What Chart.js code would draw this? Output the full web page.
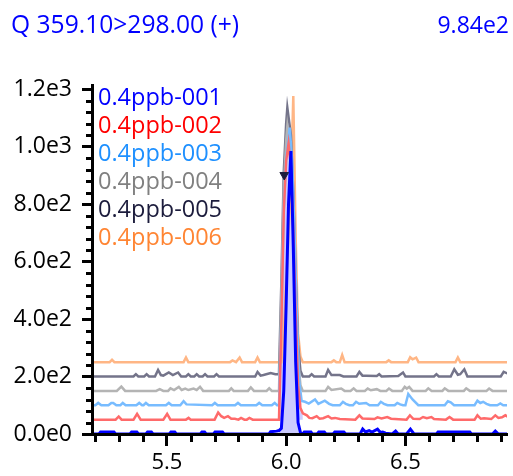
<!DOCTYPE html>
<html>
<head>
<meta charset="utf-8">
<script src="https://cdn.jsdelivr.net/npm/chart.js@4.4.1/dist/chart.umd.min.js"></script>
<style>
  html, body { margin: 0; padding: 0; background: #fff; }
  #wrap { width: 513px; height: 476px; }
</style>
</head>
<body>
<div id="wrap"><canvas id="chromChart" width="513" height="476"></canvas></div>
<script>
// Header texts
const titleText = 'Q 359.10>298.00 (+)';
const maxText = '9.84e2';

// Sample names, colours and vertical offsets of the stacked traces
const names = ['0.4ppb-001', '0.4ppb-002', '0.4ppb-003', '0.4ppb-004', '0.4ppb-005', '0.4ppb-006'];
const legendColors = ['#0000ff', '#ff0000', '#1e90ff', '#808080', '#1c1c3c', '#ff8533'];
const lineColors = ['#0000ff', '#ff6a6a', '#78bcff', '#b4b4b4', '#74748a', '#ffb685'];
const offsets = [0, 50, 100, 150, 200, 250];
const areaColor = '#ccccff';

// Integrated peak window (min)
const peakWindow = [5.97, 6.07];

// Axis ticks
const xTicks = [5.5, 6.0, 6.5];
const xTickLabels = ['5.5', '6.0', '6.5'];
const yTicks = [0, 200, 400, 600, 800, 1000, 1200];
const yTickLabels = ['0.0e0', '2.0e2', '4.0e2', '6.0e2', '8.0e2', '1.0e3', '1.2e3'];

// Traces: [retention time (min), intensity]
const s001 = [[5.18,0],[5.215,0],[5.222,7],[5.278,7],[5.285,0],[5.345,0],[5.352,7],[5.374,7],[5.381,0],
  [5.412,0],[5.419,7],[5.435,7],[5.442,0],[5.51,0],[5.517,7],[5.533,7],[5.54,0],[5.64,0],[5.647,7],
  [5.658,7],[5.665,0],[5.695,0],[5.702,7],[5.733,7],[5.74,0],[5.928,0],[5.935,8],[5.96,10],[5.97,12],
  [5.98,20],[5.99,150],[6.00,450],[6.01,800],[6.02,984],[6.03,650],[6.04,250],[6.05,40],[6.06,5],
  [6.07,0],[6.076,7],[6.104,7],[6.11,0],[6.13,0],[6.137,7],[6.16,7],[6.167,0],[6.197,0],[6.204,7],
  [6.242,7],[6.25,0],[6.31,0],[6.321,17],[6.333,7],[6.348,12],[6.36,7],[6.383,17],[6.395,5],[6.405,7],
  [6.417,3],[6.445,0],[6.459,10],[6.47,0],[6.505,0],[6.521,17],[6.536,0],[6.63,0],[6.637,7],[6.77,7],
  [6.777,0],[6.865,0],[6.877,10],[6.89,0],[6.93,0]];

const s002 = [[5.18,0],[5.285,0],[5.298,11],[5.31,0],[5.36,0],[5.375,20],[5.39,0],[5.485,0],[5.501,20],
  [5.515,0],[5.58,0],[5.591,6],[5.60,0],[5.70,0],[5.715,25],[5.728,12],[5.74,6],[5.756,12],[5.77,3],
  [5.785,3],[5.80,0],[5.811,6],[5.825,0],[5.835,0],[5.846,6],[5.86,0],[5.97,0],[5.98,330],[5.99,720],
  [6.00,900],[6.01,960],[6.02,880],[6.03,650],[6.04,370],[6.05,120],[6.06,40],[6.07,22],[6.087,15],
  [6.097,6],[6.11,5],[6.128,12],[6.14,3],[6.155,5],[6.176,12],[6.19,4],[6.205,6],[6.225,2],[6.29,0],
  [6.307,15],[6.32,4],[6.37,2],[6.383,8],[6.40,4],[6.424,9],[6.44,3],[6.505,0],[6.519,15],[6.533,3],
  [6.56,2],[6.574,9],[6.59,5],[6.609,9],[6.62,2],[6.67,0],[6.685,9],[6.70,0],[6.79,0],[6.802,15],
  [6.816,3],[6.83,5],[6.86,2],[6.877,15],[6.89,6],[6.905,8],[6.919,15],[6.93,10]];

const s003 = [[5.18,0],[5.20,0],[5.212,8],[5.225,0],[5.255,0],[5.267,8],[5.275,8],[5.288,0],[5.305,0],
  [5.315,8],[5.327,0],[5.372,0],[5.384,8],[5.396,0],[5.402,0],[5.412,8],[5.424,0],[5.496,0],[5.508,8],
  [5.52,0],[5.556,0],[5.57,14],[5.582,3],[5.69,0],[5.701,8],[5.713,0],[5.786,0],[5.798,8],[5.81,0],
  [5.875,0],[5.887,8],[5.90,0],[5.94,0],[5.952,8],[5.962,0],[5.97,0],[5.98,300],[5.99,680],[6.00,860],
  [6.015,966],[6.025,850],[6.035,600],[6.045,300],[6.055,80],[6.065,15],[6.079,12],[6.095,6],[6.121,20],
  [6.135,5],[6.162,16],[6.18,5],[6.195,0],[6.225,0],[6.238,12],[6.25,5],[6.265,0],[6.28,0],[6.293,12],
  [6.306,5],[6.335,8],[6.35,0],[6.385,0],[6.397,12],[6.41,5],[6.425,0],[6.455,0],[6.466,8],[6.478,3],
  [6.49,0],[6.50,0],[6.512,39],[6.53,20],[6.554,0],[6.665,0],[6.678,14],[6.69,10],[6.704,0],[6.79,0],
  [6.802,16],[6.814,8],[6.826,12],[6.84,5],[6.855,0],[6.885,0],[6.898,6],[6.91,0],[6.93,0]];

const s004 = [[5.18,0],[5.29,0],[5.309,15],[5.325,0],[5.455,0],[5.47,6],[5.485,0],[5.505,0],[5.515,9],
  [5.53,3],[5.55,14],[5.562,3],[5.577,8],[5.59,3],[5.612,8],[5.625,3],[5.639,14],[5.652,0],[5.76,0],
  [5.77,9],[5.78,0],[5.84,0],[5.852,12],[5.865,0],[5.918,0],[5.929,9],[5.94,0],[5.97,0],[5.98,320],
  [5.99,700],[6.00,870],[6.005,920],[6.02,820],[6.03,620],[6.04,340],[6.05,110],[6.06,20],[6.07,0],
  [6.165,0],[6.176,14],[6.19,3],[6.231,8],[6.245,0],[6.27,0],[6.283,9],[6.295,0],[6.33,0],[6.342,8],
  [6.355,2],[6.38,6],[6.395,0],[6.42,0],[6.431,8],[6.445,0],[6.485,0],[6.497,14],[6.506,8],[6.516,14],
  [6.53,0],[6.585,0],[6.596,9],[6.61,0],[6.655,0],[6.665,9],[6.68,0],[6.745,0],[6.755,9],[6.77,0],
  [6.84,0],[6.851,8],[6.865,0],[6.93,0]];

const s005 = [[5.18,0],[5.36,0],[5.37,8],[5.38,0],[5.405,0],[5.415,8],[5.425,0],[5.45,0],[5.463,23],
  [5.475,5],[5.485,3],[5.508,14],[5.525,5],[5.547,14],[5.56,0],[5.58,0],[5.59,8],[5.60,0],[5.615,0],
  [5.625,8],[5.635,0],[5.65,0],[5.66,8],[5.67,0],[5.698,0],[5.708,8],[5.718,0],[5.87,0],[5.88,16],
  [5.893,3],[5.905,5],[5.935,12],[5.955,8],[5.97,8],[5.98,330],[5.99,710],[6.00,880],[6.005,935],
  [6.02,840],[6.03,640],[6.04,350],[6.05,110],[6.06,20],[6.07,0],[6.097,0],[6.107,8],[6.117,0],[6.165,0],
  [6.176,23],[6.19,5],[6.205,5],[6.225,5],[6.24,0],[6.295,0],[6.307,16],[6.32,3],[6.335,3],[6.38,2],
  [6.39,8],[6.40,0],[6.47,2],[6.49,14],[6.50,0],[6.62,0],[6.63,8],[6.64,0],[6.69,0],[6.705,25],
  [6.72,6],[6.73,8],[6.747,25],[6.76,0],[6.90,0],[6.912,16],[6.93,10]];

const s006 = [[5.18,0],[5.26,0],[5.27,8],[5.28,0],[5.57,0],[5.58,16],[5.59,0],[5.765,0],[5.775,6],
  [5.79,0],[5.805,16],[5.815,0],[5.87,0],[5.88,16],[5.89,0],[5.98,0],[5.99,100],[6.00,280],[6.01,450],
  [6.02,620],[6.03,926],[6.04,430],[6.05,100],[6.06,20],[6.07,0],[6.19,0],[6.20,6],[6.21,0],[6.225,0],
  [6.235,25],[6.245,0],[6.42,0],[6.43,6],[6.44,0],[6.51,0],[6.52,17],[6.53,10],[6.545,16],[6.555,0],
  [6.71,0],[6.72,16],[6.73,0],[6.93,0]];

const traces = [s001, s002, s003, s004, s005, s006];

// Apex marker of the 005 peak
const markerPoint = [[5.992, 901]];

const xMin = 5.186, xMax = 6.926;
const yMin = 0, yMax = 1214;
const font = 'Open Sans';

const toXY = (pts, off) => pts.map(([t, v]) => ({ x: t, y: v + off }));

// trace lines
const datasets = traces.map((pts, i) => ({
  label: names[i],
  data: toXY(pts, offsets[i]),
  borderColor: lineColors[i],
  borderWidth: i === 0 ? 3 : 2.5,
  fill: false,
  pointRadius: 0,
  tension: 0,
  order: i
}));

// shaded peak areas (drawn before all lines)
traces.forEach((pts, i) => {
  datasets.push({
    label: names[i] + ' area',
    data: toXY(pts.filter(([t]) => t >= peakWindow[0] && t <= peakWindow[1]), offsets[i]),
    borderWidth: 0,
    borderColor: 'rgba(0,0,0,0)',
    backgroundColor: areaColor,
    fill: { value: offsets[i] },
    pointRadius: 0,
    tension: 0,
    order: 10 + i
  });
});

datasets.push({
  label: 'apex',
  data: markerPoint.map(([t, v]) => ({ x: t, y: v })),
  showLine: false,
  fill: false,
  pointStyle: 'triangle',
  rotation: 180,
  pointRadius: 5,
  backgroundColor: legendColors[4],
  borderColor: legendColors[4],
  order: -1
});

// minor ticks, header and the text legend
const overlay = {
  id: 'overlay',
  afterDraw(chart) {
    const ctx = chart.ctx;
    const xs = chart.scales.x, ys = chart.scales.y;
    ctx.save();
    ctx.fillStyle = '#000';
    for (let v = 40; v < 1200; v += 40) {
      if (v % 200 === 0) continue;
      const py = Math.round(ys.getPixelForValue(v));
      ctx.fillRect(ys.right - 6, py - 1, 6, 3);
    }
    for (let k = 52; k <= 69; k++) {
      if (k % 5 === 0) continue;
      const px = Math.round(xs.getPixelForValue(k / 10));
      ctx.fillRect(px - 1, xs.top, 3, 8);
    }

    ctx.textBaseline = 'alphabetic';
    ctx.fillStyle = '#0000ff';
    ctx.font = '24.6px "' + font + '"';
    ctx.textAlign = 'left';
    ctx.fillText(titleText, 11, 33);
    ctx.font = '23px "' + font + '"';
    ctx.textAlign = 'right';
    ctx.fillText(maxText, 509, 33);

    ctx.font = '23.5px "' + font + '"';
    ctx.textAlign = 'left';
    names.forEach((n, i) => {
      ctx.fillStyle = legendColors[i];
      ctx.fillText(n, 98, 105 + i * 28);
    });
    ctx.restore();
  }
};

new Chart(document.getElementById('chromChart'), {
  type: 'line',
  data: { datasets },
  options: {
    responsive: false,
    animation: false,
    devicePixelRatio: 1,
    layout: { padding: { top: 85, left: 0, right: 0, bottom: 0 } },
    plugins: {
      legend: { display: false },
      tooltip: { enabled: false },
      filler: { drawTime: 'beforeDatasetsDraw' }
    },
    scales: {
      x: {
        type: 'linear',
        min: xMin,
        max: xMax,
        afterFit: s => { s.height = 42; },
        afterBuildTicks: s => { s.ticks = xTicks.map(v => ({ value: v })); },
        ticks: {
          autoSkip: false,
          maxRotation: 0,
          padding: 4,
          color: '#000',
          font: { family: font, size: 22 },
          callback: (v, i) => xTickLabels[i]
        },
        grid: { display: true, drawOnChartArea: false, tickLength: 12, tickWidth: 3, tickColor: '#000', z: 1 },
        border: { display: true, color: '#000', width: 3, z: 1 }
      },
      y: {
        type: 'linear',
        min: yMin,
        max: yMax,
        afterFit: s => { s.width = 92; },
        afterBuildTicks: s => { s.ticks = yTicks.map(v => ({ value: v })); },
        ticks: {
          autoSkip: false,
          padding: 10,
          color: '#000',
          font: { family: font, size: 23 },
          callback: (v, i) => yTickLabels[i]
        },
        grid: { display: true, drawOnChartArea: false, tickLength: 10, tickWidth: 3, tickColor: '#000', z: 1 },
        border: { display: true, color: '#000', width: 3, z: 1 }
      }
    }
  },
  plugins: [overlay]
});
</script>
</body>
</html>
